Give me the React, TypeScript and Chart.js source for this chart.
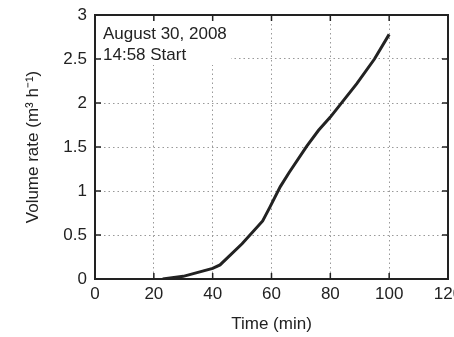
import React, { useEffect, useRef } from "react";
import { Chart, registerables } from "chart.js";

Chart.register(...registerables);

const timeMin = [23, 30, 40, 42.5, 50, 57, 59.5, 63, 66, 72, 76, 80, 89, 95, 100];
const volumeRate = [0, 0.03, 0.12, 0.16, 0.4, 0.66, 0.82, 1.05, 1.21, 1.51, 1.69, 1.84, 2.22, 2.5, 2.78];
const xTicks = [0, 20, 40, 60, 80, 100, 120];
const yTicks = [0, 0.5, 1, 1.5, 2, 2.5, 3];
const noteLines = ["August 30, 2008", "14:58 Start"];
const xTitle = "Time (min)";
const yTitle = "Volume rate (m\u00B3 h\u207B\u00B9)";

const FONT = "'Liberation Sans', Arial, sans-serif";
const INK = "#222";
const FS = 17;

const framePlugin = {
  id: "frame",
  beforeDatasetsDraw(chart: any) {
    const { ctx, chartArea: a, scales } = chart;
    ctx.save();
    ctx.fillStyle = "#fff";
    ctx.fillRect(a.left + 6, a.top + 8, 130, 42);
    ctx.strokeStyle = INK;
    ctx.lineWidth = 1.5;
    const len = 6;
    for (const v of xTicks) {
      const px = scales.x.getPixelForValue(v);
      ctx.beginPath();
      ctx.moveTo(px, a.bottom);
      ctx.lineTo(px, a.bottom - len);
      ctx.moveTo(px, a.top);
      ctx.lineTo(px, a.top + len);
      ctx.stroke();
    }
    for (const v of yTicks) {
      const py = scales.y.getPixelForValue(v);
      ctx.beginPath();
      ctx.moveTo(a.left, py);
      ctx.lineTo(a.left + len, py);
      ctx.moveTo(a.right, py);
      ctx.lineTo(a.right - len, py);
      ctx.stroke();
    }
    ctx.lineWidth = 2;
    ctx.strokeRect(a.left, a.top, a.right - a.left, a.bottom - a.top);
    ctx.fillStyle = INK;
    ctx.font = `${FS}px ${FONT}`;
    ctx.textBaseline = "alphabetic";
    ctx.textAlign = "left";
    ctx.fillText(noteLines[0], a.left + 8, a.top + 24);
    ctx.fillText(noteLines[1], a.left + 8, a.top + 45);
    ctx.restore();
  },
};

export default function App() {
  const ref = useRef<HTMLCanvasElement | null>(null);
  useEffect(() => {
    if (!ref.current) return;
    const chart = new Chart(ref.current, {
      type: "line",
      data: {
        datasets: [
          {
            data: timeMin.map((t, i) => ({ x: t, y: volumeRate[i] })),
            borderColor: INK,
            borderWidth: 3,
            pointRadius: 0,
            tension: 0,
            fill: false,
          },
        ],
      },
      options: {
        animation: false,
        responsive: true,
        maintainAspectRatio: false,
        layout: { padding: { top: 15, right: 6, left: 0, bottom: 0 } },
        plugins: { legend: { display: false }, tooltip: { enabled: false } },
        scales: {
          x: {
            type: "linear",
            min: 0,
            max: 120,
            afterBuildTicks: (s: any) => {
              s.ticks = xTicks.map((v) => ({ value: v }));
            },
            afterFit: (s: any) => {
              s.height = 58;
              s.paddingLeft = 0;
              s.paddingRight = 0;
            },
            grid: { color: "#999", lineWidth: 1, drawTicks: false },
            border: { display: false, dash: [1.5, 3] },
            ticks: {
              color: INK,
              font: { family: FONT, size: FS },
              padding: 5,
              maxRotation: 0,
              callback: (v: any) => String(v),
            },
            title: {
              display: true,
              text: xTitle,
              color: INK,
              font: { family: FONT, size: FS },
              padding: { top: 0, bottom: 2 },
            },
          },
          y: {
            type: "linear",
            min: 0,
            max: 3,
            afterBuildTicks: (s: any) => {
              s.ticks = yTicks.map((v) => ({ value: v }));
            },
            afterFit: (s: any) => {
              s.width = 95;
              s.paddingTop = 0;
              s.paddingBottom = 0;
            },
            grid: { color: "#999", lineWidth: 1, drawTicks: false },
            border: { display: false, dash: [1.5, 3] },
            ticks: {
              color: INK,
              font: { family: FONT, size: FS },
              padding: 8,
              callback: (v: any) => String(v),
            },
            title: {
              display: true,
              text: yTitle,
              color: INK,
              font: { family: FONT, size: FS },
              padding: { top: 23, bottom: 0 },
            },
          },
        },
      },
      plugins: [framePlugin],
    } as any);
    return () => chart.destroy();
  }, []);
  return (
    <div style={{ position: "fixed", left: 0, top: 0, width: 454, height: 337, background: "#fff" }}>
      <canvas ref={ref} />
    </div>
  );
}
